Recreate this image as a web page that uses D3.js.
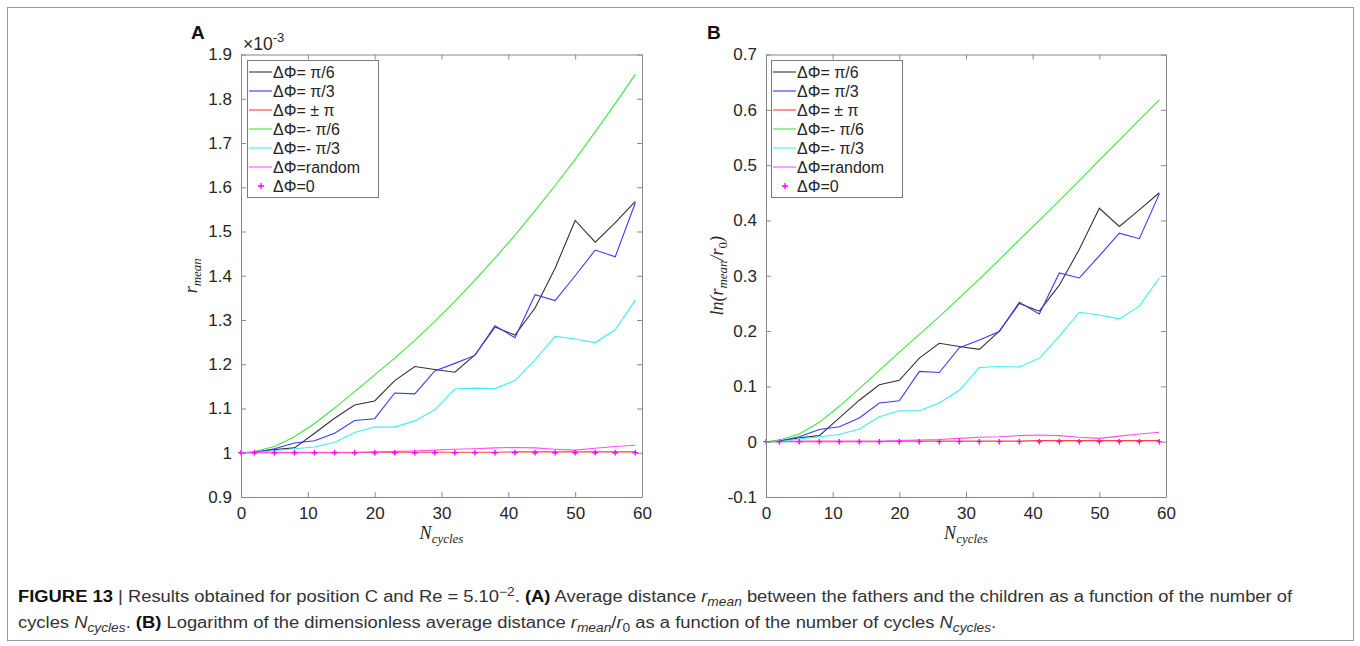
<!DOCTYPE html>
<html>
<head>
<meta charset="utf-8">
<script src="https://cdn.jsdelivr.net/npm/d3@7"></script>
<style>
  body { margin: 0; background: #fff; }
  svg { display: block; }
</style>
</head>
<body>
<div id="figure"></div>
<script>
// number of cycles (x values)
const cycles = [0, 2, 5, 8, 11, 14, 17, 20, 23, 26, 29, 32, 35, 38, 41, 44, 47, 50, 53, 56, 59]

// panel A : r_mean (x 1e-3)
const rPi6 = [1.000, 1.001, 1.007, 1.011, 1.044, 1.078, 1.108, 1.117, 1.163, 1.195, 1.188, 1.182, 1.221, 1.284, 1.266, 1.327, 1.417, 1.525, 1.476, 1.520, 1.568]
const rPi3 = [1.000, 1.001, 1.009, 1.022, 1.027, 1.044, 1.073, 1.077, 1.135, 1.133, 1.185, 1.202, 1.220, 1.287, 1.260, 1.357, 1.344, 1.400, 1.458, 1.443, 1.565]
const rPlusMinusPi = [1.000, 1.000, 1.000, 1.000, 1.000, 1.000, 1.000, 1.001, 1.001, 1.001, 1.001, 1.001, 1.001, 1.001, 1.002, 1.002, 1.002, 1.002, 1.002, 1.002, 1.002]
const rMinusPi6 = [1.000, 1.003, 1.014, 1.036, 1.066, 1.101, 1.138, 1.176, 1.214, 1.254, 1.297, 1.342, 1.390, 1.440, 1.492, 1.547, 1.604, 1.663, 1.725, 1.789, 1.855]
const rMinusPi3 = [1.000, 1.000, 1.005, 1.009, 1.013, 1.023, 1.046, 1.058, 1.058, 1.072, 1.097, 1.144, 1.146, 1.145, 1.163, 1.210, 1.263, 1.257, 1.249, 1.278, 1.345]
const rRandom = [1.000, 1.000, 1.001, 1.001, 1.001, 1.001, 1.001, 1.002, 1.003, 1.004, 1.006, 1.008, 1.009, 1.011, 1.012, 1.011, 1.008, 1.006, 1.010, 1.014, 1.017]
const rZero = [1, 1, 1, 1, 1, 1, 1, 1, 1, 1, 1, 1, 1, 1, 1, 1, 1, 1, 1, 1, 1]

// panel B : ln(r_mean / r_0)
const lnPi6 = [0, 0.001, 0.007, 0.011, 0.043, 0.075, 0.103, 0.111, 0.151, 0.178, 0.172, 0.167, 0.200, 0.250, 0.236, 0.283, 0.348, 0.422, 0.389, 0.419, 0.450]
const lnPi3 = [0, 0.001, 0.009, 0.022, 0.027, 0.043, 0.070, 0.074, 0.127, 0.125, 0.170, 0.184, 0.199, 0.252, 0.231, 0.305, 0.296, 0.336, 0.377, 0.367, 0.448]
const lnPlusMinusPi = [0, 0, 0, 0, 0, 0, 0, 0.001, 0.001, 0.001, 0.001, 0.001, 0.001, 0.001, 0.002, 0.002, 0.002, 0.002, 0.002, 0.002, 0.002]
const lnMinusPi6 = [0, 0.003, 0.014, 0.035, 0.064, 0.096, 0.129, 0.162, 0.194, 0.226, 0.260, 0.294, 0.329, 0.365, 0.400, 0.436, 0.472, 0.509, 0.545, 0.582, 0.618]
const lnMinusPi3 = [0, 0, 0.005, 0.009, 0.013, 0.023, 0.045, 0.056, 0.056, 0.070, 0.093, 0.134, 0.136, 0.135, 0.151, 0.191, 0.234, 0.229, 0.222, 0.245, 0.296]
const lnRandom = [0, 0, 0.001, 0.001, 0.001, 0.001, 0.001, 0.002, 0.003, 0.004, 0.006, 0.008, 0.009, 0.011, 0.012, 0.011, 0.008, 0.006, 0.010, 0.014, 0.017]
const lnZero = [0, 0, 0, 0, 0, 0, 0, 0, 0, 0, 0, 0, 0, 0, 0, 0, 0, 0, 0, 0, 0]

const legendLabels = ['ΔΦ= π/6', 'ΔΦ= π/3', 'ΔΦ= ± π', 'ΔΦ=- π/6', 'ΔΦ=- π/3', 'ΔΦ=random', 'ΔΦ=0']
const seriesColors = ['#333333', '#3a3aff', '#ff4040', '#3ee83e', '#3ef0f0', '#ff50ff', '#ff00ff']

const xTicks = [0, 10, 20, 30, 40, 50, 60]
const yTicksA = [0.9, 1, 1.1, 1.2, 1.3, 1.4, 1.5, 1.6, 1.7, 1.8, 1.9]
const yTicksB = [-0.1, 0, 0.1, 0.2, 0.3, 0.4, 0.5, 0.6, 0.7]

const width = 1360
const height = 646
const sans = "'Liberation Sans', Arial, Helvetica, sans-serif"
const serif = "'Liberation Serif', 'Times New Roman', serif"
const frameColor = '#8a8a8a'
const textColor = '#262626'

const svg = d3
  .select('#figure')
  .append('svg')
  .attr('width', width)
  .attr('height', height)

// outer figure frame
svg
  .append('rect')
  .attr('x', 7.5)
  .attr('y', 7.5)
  .attr('width', 1346)
  .attr('height', 633)
  .attr('fill', 'none')
  .attr('stroke', '#9a9a9a')
  .attr('stroke-width', 1)

function drawPanel(p) {
  const xScale = d3.scaleLinear().domain([0, 60]).range([p.left, p.right])
  const yScale = d3.scaleLinear().domain(p.yDomain).range([p.bottom, p.top])
  const g = svg.append('g')

  // series lines
  const line = d3
    .line()
    .x((d, i) => xScale(cycles[i]))
    .y(d => yScale(d))

  p.series.slice(0, 6).forEach((s, k) => {
    g.append('path')
      .datum(s)
      .attr('d', line)
      .attr('fill', 'none')
      .attr('stroke', seriesColors[k])
      .attr('stroke-width', 1.1)
  })

  // the dPhi=0 series: '+' markers only
  g.selectAll('.plus')
    .data(p.series[6])
    .enter()
    .append('path')
    .attr('class', 'plus')
    .attr('d', (d, i) => {
      const x = xScale(cycles[i])
      const y = yScale(d)
      return `M${x - 2.8},${y}H${x + 2.8}M${x},${y - 2.8}V${y + 2.8}`
    })
    .attr('stroke', seriesColors[6])
    .attr('stroke-width', 1.3)

  // axes with inward ticks on all four sides
  const tick = 5
  const bottomAxis = d3.axisBottom(xScale).tickValues(xTicks).tickSizeInner(-tick).tickSizeOuter(0).tickPadding(10)
  const topAxis = d3.axisTop(xScale).tickValues(xTicks).tickSizeInner(-tick).tickSizeOuter(0).tickFormat('')
  const leftAxis = d3.axisLeft(yScale).tickValues(p.yTicks).tickSizeInner(-tick).tickSizeOuter(0).tickPadding(9)
    .tickFormat(d => d3.format('.1f')(d).replace('1.0', '1').replace('0.0', '0').replace('−', '-'))
  const rightAxis = d3.axisRight(yScale).tickValues(p.yTicks).tickSizeInner(-tick).tickSizeOuter(0).tickFormat('')

  const axes = [
    g.append('g').attr('transform', `translate(0,${p.bottom})`).call(bottomAxis),
    g.append('g').attr('transform', `translate(0,${p.top})`).call(topAxis),
    g.append('g').attr('transform', `translate(${p.left},0)`).call(leftAxis),
    g.append('g').attr('transform', `translate(${p.right},0)`).call(rightAxis)
  ]
  axes.forEach(a => {
    a.selectAll('.domain').attr('stroke', frameColor)
    a.selectAll('line').attr('stroke', frameColor)
    a.selectAll('text')
      .attr('fill', textColor)
      .style('font-family', sans)
      .style('font-size', '17px')
  })

  // legend
  const lg = g.append('g').attr('transform', `translate(${p.legendX},60)`)
  lg.append('rect')
    .attr('x', 0.5)
    .attr('y', 0.5)
    .attr('width', 131)
    .attr('height', 137)
    .attr('fill', '#fff')
    .attr('stroke', '#7a7a7a')
  legendLabels.forEach((label, k) => {
    const cy = 12 + k * 19
    if (k < 6) {
      lg.append('line')
        .attr('x1', 2).attr('x2', 25)
        .attr('y1', cy).attr('y2', cy)
        .attr('stroke', seriesColors[k])
        .attr('stroke-width', 1.1)
    } else {
      lg.append('path')
        .attr('d', `M${11},${cy}H${17}M${14},${cy - 3}V${cy + 3}`)
        .attr('stroke', seriesColors[6])
        .attr('stroke-width', 1.3)
    }
    lg.append('text')
      .attr('x', 26)
      .attr('y', cy)
      .attr('dy', '0.35em')
      .attr('fill', textColor)
      .style('font-family', sans)
      .style('font-size', '16px')
      .text(label)
  })

  // panel letter
  svg.append('text')
    .attr('x', p.letterX)
    .attr('y', 39)
    .attr('fill', '#111')
    .style('font-family', sans)
    .style('font-weight', 'bold')
    .style('font-size', '19px')
    .text(p.letter)

  // x label N_cycles
  const xl = svg.append('text')
    .attr('x', (p.left + p.right) / 2)
    .attr('y', 539)
    .attr('text-anchor', 'middle')
    .attr('fill', textColor)
    .style('font-family', serif)
    .style('font-style', 'italic')
    .style('font-size', '18px')
  xl.append('tspan').text('N')
  xl.append('tspan').attr('dy', 4).style('font-size', '13px').text('cycles')

  // y label
  const yl = svg.append('text')
    .attr('transform', `translate(${p.yLabelX},${(p.top + p.bottom) / 2}) rotate(-90)`)
    .attr('text-anchor', 'middle')
    .attr('fill', textColor)
    .style('font-family', serif)
    .style('font-style', 'italic')
    .style('font-size', '18px')
  p.yLabel.forEach(run => {
    const t = yl.append('tspan').text(run.t)
    if (run.dy) t.attr('dy', run.dy)
    if (run.small) t.style('font-size', '13px')
    if (run.upright) t.style('font-style', 'normal')
  })
}

drawPanel({
  letter: 'A',
  letterX: 191,
  left: 241,
  right: 642,
  top: 54.5,
  bottom: 497,
  yDomain: [0.9, 1.9],
  yTicks: yTicksA,
  series: [rPi6, rPi3, rPlusMinusPi, rMinusPi6, rMinusPi3, rRandom, rZero],
  legendX: 247,
  yLabelX: 197,
  yLabel: [{ t: 'r' }, { t: 'mean', small: true, dy: 4 }]
})

drawPanel({
  letter: 'B',
  letterX: 707,
  left: 766,
  right: 1166,
  top: 54.5,
  bottom: 497,
  yDomain: [-0.1, 0.7],
  yTicks: yTicksB,
  series: [lnPi6, lnPi3, lnPlusMinusPi, lnMinusPi6, lnMinusPi3, lnRandom, lnZero],
  legendX: 771,
  yLabelX: 723,
  yLabel: [
    { t: 'ln(r' },
    { t: 'mean', small: true, dy: 4 },
    { t: '/r', dy: -4 },
    { t: '0', small: true, dy: 4, upright: true },
    { t: ')', dy: -4 }
  ]
})

// "x 10^-3" multiplier of panel A
const mult = svg.append('text')
  .attr('x', 243)
  .attr('y', 50)
  .attr('fill', textColor)
  .style('font-family', sans)
  .style('font-size', '17.5px')
mult.append('tspan').text('×10')
mult.append('tspan').attr('dy', -8).style('font-size', '13px').text('-3')

// caption
const captionLines = [
  [
    { t: 'FIGURE 13', b: true },
    { t: ' | Results obtained for position C and Re = 5.10' },
    { t: '−2', sup: true },
    { t: '. ' },
    { t: '(A)', b: true },
    { t: ' Average distance ' },
    { t: 'r', i: true },
    { t: 'mean', i: true, sub: true },
    { t: ' between the fathers and the children as a function of the number of' }
  ],
  [
    { t: 'cycles ' },
    { t: 'N', i: true },
    { t: 'cycles', i: true, sub: true },
    { t: '. ' },
    { t: '(B)', b: true },
    { t: ' Logarithm of the dimensionless average distance ' },
    { t: 'r', i: true },
    { t: 'mean', i: true, sub: true },
    { t: '/' },
    { t: 'r', i: true },
    { t: '0', sub: true },
    { t: ' as a function of the number of cycles ' },
    { t: 'N', i: true },
    { t: 'cycles', i: true, sub: true },
    { t: '.' }
  ]
]

const captionNodes = captionLines.map((runs, li) => {
  const txt = svg.append('text')
    .attr('x', 0)
    .attr('y', 0)
    .attr('fill', '#333')
    .style('font-family', sans)
    .style('font-size', '16px')
  let shift = 0
  runs.forEach(run => {
    const ts = txt.append('tspan').text(run.t)
    let target = 0
    if (run.sub) target = 4
    if (run.sup) target = -6
    if (target !== shift) ts.attr('dy', target - shift)
    shift = target
    if (run.sub || run.sup) ts.style('font-size', '12px')
    if (run.b) ts.style('font-weight', 'bold').attr('fill', '#111')
    if (run.i) ts.style('font-style', 'italic')
  })
  return { txt, baseline: 602 + li * 26 }
})

// squeeze the caption to the width it has in the figure
const firstWidth = captionNodes[0].txt.node().getComputedTextLength()
const sx = 1275 / firstWidth
captionNodes.forEach(c => {
  c.txt.attr('transform', `translate(18,${c.baseline}) scale(${sx},1)`)
})
</script>
</body>
</html>
